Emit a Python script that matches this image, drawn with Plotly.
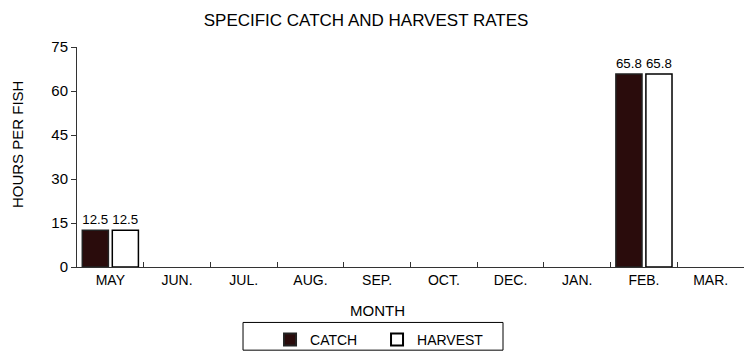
import plotly.graph_objects as go

months = ["MAY", "JUN.", "JUL.", "AUG.", "SEP.", "OCT.", "DEC.", "JAN.", "FEB.", "MAR."]
catch = [12.5, None, None, None, None, None, None, None, 65.8, None]
harvest = [12.5, None, None, None, None, None, None, None, 65.8, None]
y_ticks = [0, 15, 30, 45, 60, 75]

def labels(vals):
    return ["" if v is None else f"{v:.1f}" for v in vals]

family = "Liberation Sans, Arial, sans-serif"
font = dict(family=family, size=14, color="black")

fig = go.Figure()
fig.add_trace(go.Bar(
    x=months, y=catch, name="CATCH",
    marker=dict(color="#2a0c0c", line=dict(color="#222", width=1.5)),
    text=labels(catch), textposition="outside", cliponaxis=False,
    textfont=font,
))
fig.add_trace(go.Bar(
    x=months, y=harvest, name="HARVEST",
    marker=dict(color="white", line=dict(color="black", width=1.5)),
    text=labels(harvest), textposition="outside", cliponaxis=False,
    textfont=font,
))

# legend frame
fig.add_shape(type="rect", xref="paper", yref="paper",
              x0=0.2489, x1=0.6387, y0=-0.378, y1=-0.252,
              line=dict(color="black", width=1), fillcolor="rgba(0,0,0,0)")

# axis titles
fig.add_annotation(text="MONTH", xref="paper", yref="paper", x=0.451, y=-0.198,
                   xanchor="center", yanchor="middle", showarrow=False,
                   font=dict(family=family, size=15))
fig.add_annotation(text="HOURS PER FISH", xref="paper", yref="paper", x=-0.09, y=0.5586,
                   xanchor="center", yanchor="middle", textangle=-90, showarrow=False,
                   font=dict(family=family, size=15))

fig.update_layout(
    width=744, height=356,
    margin=dict(l=77, r=0, t=47, b=87),
    paper_bgcolor="white", plot_bgcolor="white",
    font=font,
    barmode="group", bargap=0.1, bargroupgap=0.13,
    title=dict(text="SPECIFIC CATCH AND HARVEST RATES", x=0.492, xanchor="center",
               y=0.945, yanchor="middle", font=dict(family=family, size=17)),
    xaxis=dict(
        showline=True, linecolor="#333", linewidth=1,
        ticks="inside", tickson="boundaries", ticklen=5, tickcolor="#333",
        tickfont=dict(size=14),
        showgrid=False,
    ),
    yaxis=dict(
        range=[0, 75], tickvals=y_ticks,
        showline=True, linecolor="#333", linewidth=1,
        ticks="outside", ticklen=5, tickcolor="#333",
        tickfont=dict(size=15),
        showgrid=False, zeroline=False,
    ),
    showlegend=True,
    legend=dict(
        orientation="h", x=0.2894, xanchor="left", y=-0.26, yanchor="top",
        borderwidth=0, entrywidth=62, bgcolor="rgba(0,0,0,0)",
        font=dict(family=family, size=14), itemsizing="constant",
    ),
)

fig.write_html("out.html")
